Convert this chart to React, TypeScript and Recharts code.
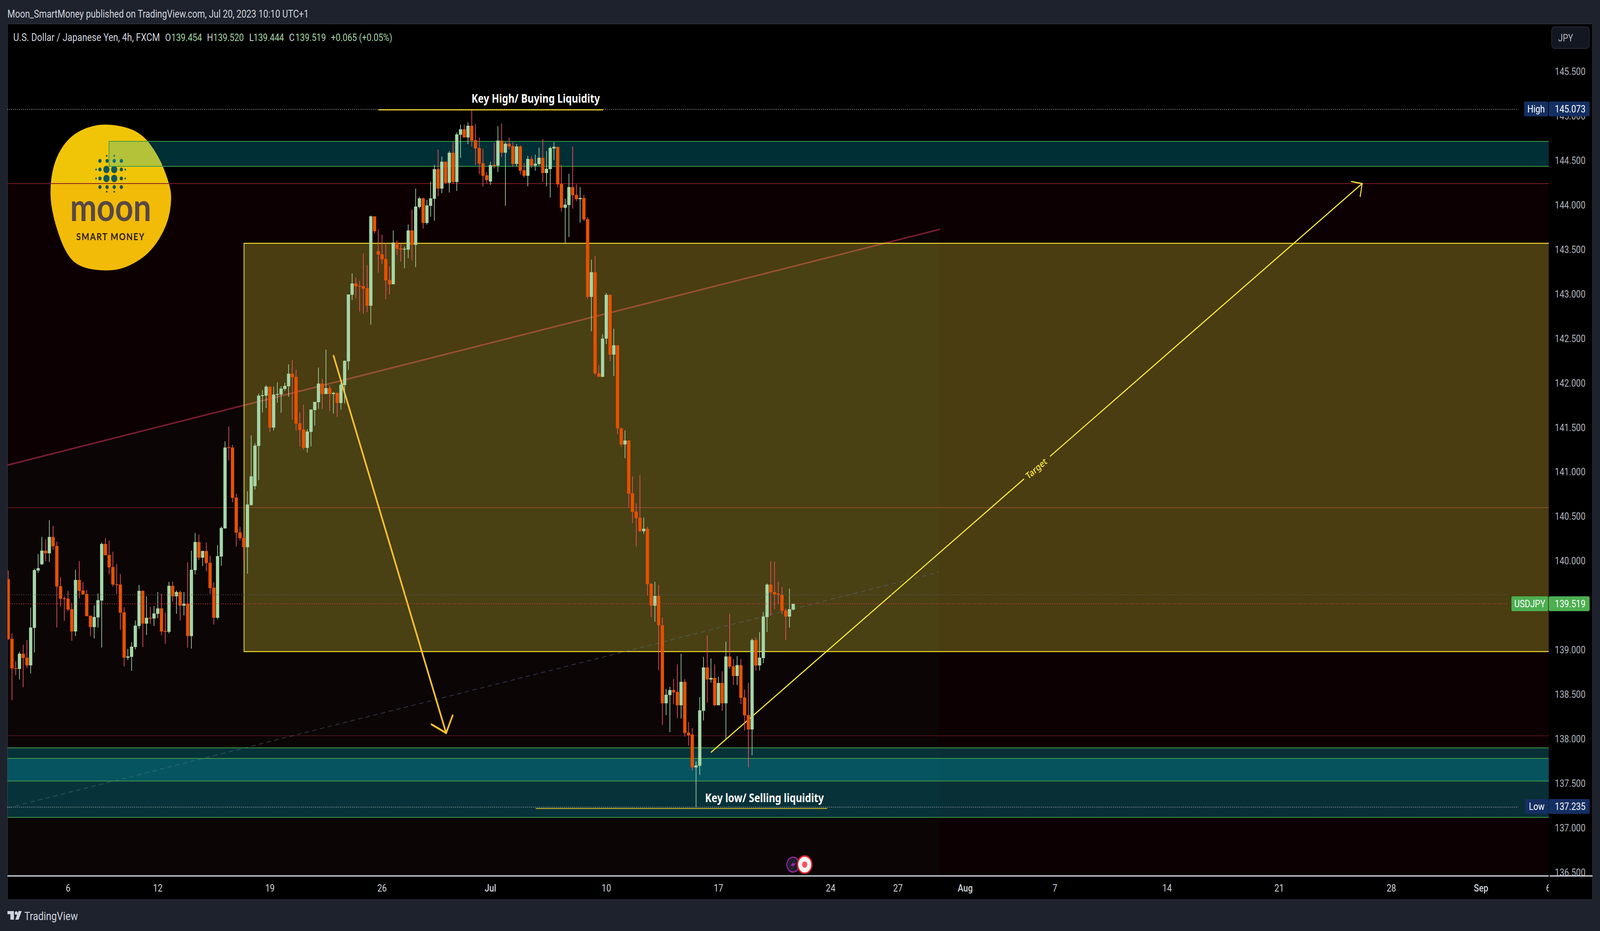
import {
  ComposedChart,
  Area,
  Bar,
  XAxis,
  YAxis,
  ReferenceArea,
  ReferenceLine,
  ReferenceDot,
} from "recharts";

// USD/JPY 4h candles, oldest first
const highs = [
  139.893,139.186,138.875,138.979,139.059,139.112,139.476,139.914,140.077,140.270,
  140.243,140.458,140.397,140.217,139.818,139.603,139.664,139.529,139.901,139.998,
  139.761,139.673,139.388,139.502,139.634,140.208,140.257,140.230,140.103,139.967,
  139.853,139.480,139.011,139.086,139.331,139.730,139.669,139.603,139.485,139.493,
  139.651,139.634,139.419,139.765,139.770,139.669,139.669,139.651,139.985,140.116,
  140.314,140.296,140.116,140.208,140.059,139.761,140.178,140.388,141.344,141.511,
  141.305,140.756,140.383,140.300,140.783,141.410,141.322,141.879,141.919,141.976,
  141.958,141.958,142.007,141.963,142.002,142.208,142.257,142.147,141.669,141.757,
  141.480,141.704,141.787,142.173,142.046,142.375,141.971,141.901,141.893,142.002,
  142.252,142.994,143.231,143.187,143.147,143.454,143.323,143.880,143.871,143.726,
  143.665,143.573,143.310,143.713,143.599,143.577,143.529,143.779,143.946,144.183,
  144.090,144.082,144.055,144.262,144.450,144.621,144.542,144.485,144.604,144.705,
  144.814,144.902,144.902,144.928,145.073,144.906,144.757,144.630,144.367,144.485,
  144.696,144.884,144.915,144.705,144.757,144.705,144.683,144.670,144.468,144.551,
  144.547,144.564,144.643,144.740,144.604,144.656,144.705,144.652,144.450,144.069,
  144.349,144.656,144.231,144.200,144.112,143.862,143.384,143.424,142.200,142.546,
  143.011,142.990,142.608,142.423,141.498,141.467,141.358,140.950,140.647,140.963,
  140.485,140.383,139.752,139.765,139.730,139.366,138.563,138.585,138.673,138.839,
  138.958,138.673,138.190,138.124,137.747,138.471,138.923,139.164,138.905,138.839,
  138.699,138.760,139.094,139.405,138.896,138.931,138.901,138.554,138.633,139.129,
  139.142,139.199,139.427,139.747,139.998,139.993,139.765,139.708,139.466,139.690,139.520,
];

const lows = [
  139.113,138.436,138.717,138.669,138.581,138.796,138.735,138.971,139.866,139.954,
  139.998,139.989,140.125,139.252,139.485,139.327,139.436,139.103,139.156,139.581,
  139.625,139.379,139.156,139.129,139.252,139.028,140.064,139.849,139.713,139.629,
  139.226,138.814,138.888,138.765,139.007,139.239,139.033,139.169,139.292,139.270,
  139.357,139.165,139.068,139.186,139.542,139.406,139.331,139.388,139.028,139.015,
  139.849,140.011,139.945,139.884,139.629,139.287,139.344,139.945,140.362,141.130,
  140.660,140.160,140.230,140.002,139.857,140.620,140.800,140.906,141.669,141.717,
  141.445,141.467,141.779,141.665,141.910,141.844,141.586,141.463,141.287,141.248,
  141.217,141.287,141.520,141.708,141.708,141.875,141.686,141.656,141.616,141.700,
  141.770,142.147,142.932,142.954,142.801,142.774,142.796,142.656,143.678,143.239,
  143.336,142.937,142.994,143.108,143.437,143.362,143.288,143.402,143.376,143.301,
  143.959,143.735,143.779,143.867,143.823,144.095,144.130,144.240,144.139,144.240,
  144.156,144.529,144.757,144.683,144.656,144.446,144.345,144.205,144.240,144.226,
  144.411,144.371,144.538,143.989,144.626,144.428,144.437,144.340,144.305,144.209,
  144.415,144.384,144.441,144.257,144.209,144.082,144.503,144.196,143.924,143.560,
  143.639,143.959,144.042,143.801,143.818,142.945,142.581,142.086,142.068,142.068,
  142.437,142.243,142.077,141.423,141.283,141.156,140.603,140.423,140.164,140.326,
  140.305,139.611,139.370,139.317,138.774,138.159,138.269,138.076,138.392,138.234,
  138.229,138.028,137.927,137.646,137.235,137.598,138.208,138.409,138.633,138.370,
  138.379,138.317,138.002,138.787,138.607,138.607,138.392,138.094,137.681,137.817,
  138.769,138.769,138.852,139.203,139.383,139.458,139.519,139.401,139.111,139.252,139.444,
];

const opens = [
  139.795,139.125,138.796,138.787,138.958,138.914,138.827,139.248,139.893,139.963,
  140.116,140.086,140.270,140.169,139.717,139.581,139.577,139.458,139.208,139.787,
  139.669,139.629,139.384,139.257,139.366,139.555,140.191,140.068,139.932,139.739,
  139.735,139.423,138.914,138.923,139.033,139.270,139.664,139.296,139.362,139.353,
  139.406,139.467,139.213,139.204,139.721,139.603,139.651,139.498,139.520,139.156,
  139.897,140.213,140.037,140.112,139.980,139.700,139.362,140.050,140.366,141.279,
  141.274,140.712,140.322,140.260,140.155,140.629,140.840,141.292,141.853,141.857,
  141.958,141.498,141.866,141.870,141.932,141.963,142.103,142.068,141.546,141.476,
  141.270,141.450,141.695,141.783,141.993,141.875,141.941,141.875,141.888,141.774,
  141.976,142.243,142.990,143.117,143.090,143.086,143.064,142.867,143.871,143.481,
  143.445,143.393,143.156,143.108,143.577,143.511,143.498,143.498,143.713,143.551,
  143.976,144.073,143.797,143.989,144.069,144.402,144.183,144.485,144.248,144.586,
  144.257,144.788,144.849,144.757,144.889,144.727,144.639,144.468,144.332,144.262,
  144.450,144.441,144.722,144.586,144.687,144.661,144.459,144.656,144.389,144.327,
  144.516,144.441,144.459,144.529,144.358,144.402,144.634,144.652,144.235,143.968,
  143.998,144.200,144.112,144.064,144.077,143.840,142.967,143.244,142.108,142.068,
  142.498,142.990,142.318,142.423,141.489,141.309,141.353,140.761,140.555,140.485,
  140.335,140.362,139.743,139.498,139.607,139.278,138.401,138.493,138.550,138.528,
  138.379,138.642,138.072,138.050,137.681,137.699,138.317,138.804,138.668,138.686,
  138.379,138.629,138.401,138.927,138.817,138.708,138.830,138.466,138.269,138.107,
  139.111,138.826,138.909,139.370,139.734,139.651,139.633,139.620,139.444,139.375,139.454,
];

const closes = [
  139.122,138.793,138.787,138.958,138.910,138.827,139.252,139.897,139.919,140.116,
  140.086,140.270,140.165,139.713,139.577,139.572,139.454,139.208,139.787,139.664,
  139.625,139.379,139.257,139.371,139.559,140.191,140.064,139.928,139.735,139.730,
  139.419,138.914,138.928,139.037,139.274,139.664,139.296,139.362,139.353,139.410,
  139.467,139.208,139.204,139.721,139.603,139.651,139.498,139.520,139.156,139.901,
  140.213,140.037,140.112,139.976,139.695,139.362,140.055,140.371,141.274,141.270,
  140.708,140.317,140.256,140.155,140.634,140.950,141.296,141.857,141.862,141.958,
  141.498,141.870,141.875,141.936,141.967,142.103,142.064,141.542,141.471,141.270,
  141.454,141.700,141.787,141.993,141.875,141.941,141.875,141.888,141.774,141.980,
  142.248,142.994,143.117,143.086,143.081,143.059,142.867,143.871,143.704,143.441,
  143.389,143.152,143.108,143.577,143.507,143.498,143.507,143.713,143.551,143.981,
  144.073,143.797,143.994,144.073,144.402,144.183,144.485,144.248,144.586,144.257,
  144.792,144.849,144.757,144.889,144.722,144.634,144.463,144.327,144.279,144.446,
  144.437,144.722,144.586,144.687,144.656,144.459,144.656,144.384,144.327,144.516,
  144.441,144.463,144.529,144.358,144.406,144.639,144.652,144.231,143.968,144.003,
  144.200,144.108,144.064,144.077,143.836,142.967,143.244,142.108,142.068,142.498,
  142.990,142.318,142.423,141.489,141.309,141.353,140.756,140.550,140.480,140.335,
  140.362,139.739,139.498,139.607,139.278,138.401,138.497,138.550,138.524,138.379,
  138.642,138.067,138.041,137.681,137.703,138.322,138.804,138.668,138.686,138.379,
  138.629,138.401,138.927,138.813,138.708,138.830,138.462,138.265,138.107,139.111,
  138.826,138.914,139.375,139.734,139.647,139.625,139.620,139.440,139.375,139.458,139.519,
];

// time axis, in bar numbers
const timeTicks = [17, 41, 71, 101, 130, 161, 191, 221, 239, 257, 281, 311, 341, 371, 395, 413];
const timeLabels = ["6", "12", "19", "26", "Jul", "10", "17", "24", "27", "Aug", "7", "14", "21", "28", "Sep", "6"];
const priceTicks = [136.5, 137, 137.5, 138, 138.5, 139, 139.5, 140, 140.5, 141, 141.5, 142, 142.5, 143, 143.5, 144, 144.5, 145, 145.5];

// drawings on the chart, as [bar, price]
const redTrend = [[0.783, 141.077], [250.26, 143.726]];
const dashTrend = [[0.783, 137.225], [249.91, 139.875]];
const channelFill = [{ idx: 0.783, top: 141.077 }, { idx: 250.09, top: 143.725 }];
const downArrow = [[88.02, 142.305], [118.14, 138.067]];
const downBarbs = [[[114.24, 138.164], [118.14, 138.067]], [[119.88, 138.265], [118.14, 138.067]]];
const targetLines = [
  [[189.06, 137.852], [272.66, 140.919]],
  [[279.78, 141.178], [363.2, 144.24]],
  [[360.33, 144.262], [363.2, 144.24]],
  [[362.67, 144.095], [363.2, 144.24]],
];

const candles = opens.map((open, i) => ({
  idx: i + 1,
  open,
  high: highs[i],
  low: lows[i],
  close: closes[i],
  range: [lows[i], highs[i]],
}));

const PAGE_WIDTH = 4931;
const PAGE_HEIGHT = 2384;
const UI_FONT = "Roboto, sans-serif";
const AXIS_COLOR = "#b2b5be";
const BODY_WIDTH = 10;
const ZONE_STROKE = "#3f9a44";

function Candle(props: any) {
  const { x, y, width, height, payload } = props;
  const perPrice = height / (payload.high - payload.low);
  const up = payload.close >= payload.open;
  const bodyTop = y + (payload.high - Math.max(payload.open, payload.close)) * perPrice;
  const bodyBottom = y + (payload.high - Math.min(payload.open, payload.close)) * perPrice;
  const cx = x + width / 2;
  return (
    <g>
      <rect x={cx - 1} y={y} width={2} height={height} fill={up ? "#a5d6a7" : "#f7525f"} />
      <rect
        x={cx - BODY_WIDTH / 2}
        y={bodyTop}
        width={BODY_WIDTH}
        height={Math.max(bodyBottom - bodyTop, 2)}
        fill={up ? "#a5d6a7" : "#e65100"}
      />
    </g>
  );
}

function TimeTick(props: any) {
  const { x, index } = props;
  const label = timeLabels[index] ?? "";
  const isMonth = label.length === 3;
  return (
    <g>
      <clipPath id={`time-clip-${index}`}>
        <rect x={23} y={2245} width={4750} height={58} />
      </clipPath>
      <text
        x={x}
        y={2283}
        textAnchor="middle"
        fontFamily={UI_FONT}
        fontSize={26}
        fontWeight={isMonth ? 500 : 400}
        fill="#d1d4dc"
        clipPath={`url(#time-clip-${index})`}
      >
        {label}
      </text>
    </g>
  );
}

function PriceTick(props: any) {
  const { y, payload } = props;
  return (
    <text x={4839} y={y + 9} textAnchor="middle" fontFamily={UI_FONT} fontSize={26} fill={AXIS_COLOR}>
      {payload.value.toFixed(3)}
    </text>
  );
}

function segment(pair: number[][]) {
  return pair.map(([x, y]) => ({ x, y }));
}

function noteText(text: string, fill: string, fontSize: number, rotate = 0, weight = 700) {
  return (p: any) => (
    <text
      x={p.cx}
      y={p.cy}
      textAnchor="middle"
      dominantBaseline="central"
      fontFamily="'Noto Sans', sans-serif"
      fontWeight={weight}
      fontSize={fontSize}
      fill={fill}
      transform={rotate ? `rotate(${rotate} ${p.cx} ${p.cy})` : undefined}
    >
      {text}
    </text>
  );
}

// soft closed outline through the logo points
function blobPath(points: number[][]) {
  const mid = (a: number[], b: number[]) => [(a[0] + b[0]) / 2, (a[1] + b[1]) / 2];
  const start = mid(points[points.length - 1], points[0]);
  let d = `M${start[0]} ${start[1]}`;
  points.forEach((p, i) => {
    const m = mid(p, points[(i + 1) % points.length]);
    d += ` Q${p[0]} ${p[1]} ${m[0]} ${m[1]}`;
  });
  return d + " Z";
}

const logoOutline = [
  [336, 316], [431, 335], [489, 398], [522, 469], [530, 510], [516, 577], [466, 645], [398, 683],
  [336, 695], [249, 686], [205, 653], [170, 577], [152, 500], [164, 418], [205, 357], [265, 325],
];

const logoDots = [
  [329, 399, 2.5], [352, 399, 2.5],
  [308, 412, 5], [330, 412, 5], [352, 412, 5], [374, 412, 5],
  [296, 434, 2.5], [308, 434, 5], [328, 434, 9.5], [352, 434, 9.5], [374, 434, 5], [386, 434, 2.5],
  [296, 457, 2.5], [308, 457, 5], [328, 457, 9.5], [352, 457, 9.5], [374, 457, 5], [386, 457, 2.5],
  [308, 479, 5], [330, 479, 5], [352, 479, 5], [374, 479, 5],
  [329, 491, 2.5], [352, 491, 2.5],
];

function PriceTag({ name, value, y, x, width, color }: any) {
  const top = y - 19;
  return (
    <g fontFamily={UI_FONT} fontSize={26} fill="#ffffff">
      <rect x={x} y={top} width={width} height={38} rx={4} fill={color} />
      <rect x={4773} y={top} width={126} height={38} rx={4} fill={color} />
      <text x={x + width / 2} y={y + 9} textAnchor="middle">{name}</text>
      <text x={4839} y={y + 9} textAnchor="middle">{value}</text>
    </g>
  );
}

export default function App() {
  // The sandbox browser reports innerWidth 4096, not the 4931 it was asked for, so a
  // 4931 page loses its right side. Squeeze horizontally to fit; at a real 4931 window fit is 1.
  const fit = Math.min(1, window.innerWidth / PAGE_WIDTH);
  return (
    <div
      style={{
        position: "absolute",
        left: 0,
        top: 0,
        width: PAGE_WIDTH,
        height: PAGE_HEIGHT,
        background: "#1e222d",
        overflow: "hidden",
        transform: `scaleX(${fit})`,
        transformOrigin: "0 0",
      }}
    >
      {/* panel and logo sit under the chart */}
      <svg width={PAGE_WIDTH} height={PAGE_HEIGHT} style={{ position: "absolute", left: 0, top: 0 }}>
        <rect x={23} y={61} width={4885} height={2243} fill="#000000" stroke="#2a2e39" strokeWidth={2} />
        <path d={blobPath(logoOutline)} fill="#f1c507" />
        {logoDots.map(([cx, cy, r], i) => (
          <ellipse key={i} cx={cx} cy={cy} rx={r} ry={r} fill="#10575a" />
        ))}
        <text x={341} y={566} textAnchor="middle" fontFamily="Lato, sans-serif" fontSize={98} fontWeight={700} fill="#504c48">
          moon
        </text>
        <text x={341} y={615} textAnchor="middle" fontFamily="Lato, sans-serif" fontSize={25} letterSpacing={2.5} fontWeight={700} fill="#1e1c18">
          SMART MONEY
        </text>
      </svg>

      <ComposedChart
        width={PAGE_WIDTH}
        height={PAGE_HEIGHT}
        data={candles}
        margin={{ top: 61, right: 0, bottom: 0, left: 23 }}
        style={{ position: "absolute", left: 0, top: 0 }}
      >
        <XAxis
          dataKey="idx"
          type="number"
          domain={[0.783, 413.11]}
          allowDataOverflow
          ticks={timeTicks}
          interval={0}
          height={141}
          tick={<TimeTick />}
          tickLine={false}
          axisLine={{ stroke: "#e0e3eb", strokeWidth: 3 }}
        />
        <YAxis
          orientation="right"
          type="number"
          domain={[136.4616, 146.034]}
          allowDataOverflow
          ticks={priceTicks}
          interval={0}
          width={158}
          tick={<PriceTick />}
          tickLine={false}
          axisLine={false}
        />

        {/* red tint below the upper line, cooler tint inside the channel */}
        <ReferenceArea y1={136.4616} y2={144.24} fill="#ff002a" fillOpacity={0.047} stroke="none" zIndex={5} />
        <Area
          data={channelFill}
          dataKey="top"
          baseValue={136.4616}
          stroke="none"
          fill="#00ffff"
          fillOpacity={0.02}
          isAnimationActive={false}
          dot={false}
          activeDot={false}
          zIndex={6}
        />

        <ReferenceLine y={144.24} stroke="#801c24" strokeWidth={2} zIndex={10} />
        <ReferenceLine y={140.599} stroke="#64191e" strokeWidth={2} zIndex={10} />
        <ReferenceLine y={138.037} stroke="#641920" strokeWidth={1.5} zIndex={10} />
        <ReferenceLine segment={segment(redTrend)} stroke="#7a1c30" strokeWidth={4} zIndex={10} />

        <ReferenceArea x1={27.95} x2={430} y1={144.433} y2={144.713} ifOverflow="hidden" fill="#00bcd4" fillOpacity={0.25} stroke={ZONE_STROKE} strokeWidth={2} zIndex={20} />
        <ReferenceArea x1={-10} x2={430} y1={137.12} y2={137.901} ifOverflow="hidden" fill="#00bcd4" fillOpacity={0.25} stroke={ZONE_STROKE} strokeWidth={2} zIndex={20} />
        <ReferenceArea x1={-10} x2={430} y1={137.528} y2={137.782} ifOverflow="hidden" fill="#00bcd4" fillOpacity={0.25} stroke={ZONE_STROKE} strokeWidth={2} zIndex={20} />
        <ReferenceArea x1={64.07} x2={430} y1={138.982} y2={143.568} ifOverflow="hidden" fill="#f0e23a" fillOpacity={0.27} stroke="#f2d72d" strokeWidth={2.5} zIndex={20} />

        <ReferenceLine segment={segment(dashTrend)} stroke="#5d7a94" strokeOpacity={0.45} strokeWidth={2} strokeDasharray="14 10" zIndex={30} />

        <ReferenceLine segment={segment(downArrow)} stroke="#fbc02d" strokeWidth={5} strokeLinecap="round" zIndex={40} />
        {downBarbs.map((pair, i) => (
          <ReferenceLine key={i} segment={segment(pair)} stroke="#fbc02d" strokeWidth={5} strokeLinecap="round" zIndex={40} />
        ))}
        {targetLines.map((pair, i) => (
          <ReferenceLine key={i} segment={segment(pair)} stroke="#ffeb3b" strokeWidth={3} strokeLinecap="round" zIndex={40} />
        ))}

        <Bar dataKey="range" barSize={10} shape={(p: any) => <Candle {...p} />} isAnimationActive={false} zIndex={50} />

        {/* high, low and last price guides */}
        <ReferenceLine segment={[{ x: 0.783, y: 145.073 }, { x: 405, y: 145.073 }]} stroke="#b2b5be" strokeWidth={2} strokeDasharray="2 4" zIndex={60} />
        <ReferenceLine segment={[{ x: 0.783, y: 137.235 }, { x: 405, y: 137.235 }]} stroke="#b2b5be" strokeWidth={2} strokeDasharray="2 4" zIndex={60} />
        <ReferenceLine segment={[{ x: 0.783, y: 139.62 }, { x: 402, y: 139.62 }]} stroke="#5d5d5d" strokeWidth={2} strokeDasharray="2 5" zIndex={60} />
        <ReferenceLine segment={[{ x: 0.783, y: 139.519 }, { x: 402, y: 139.519 }]} stroke="#f23645" strokeWidth={2} strokeDasharray="2 5" zIndex={60} />

        <ReferenceLine segment={[{ x: 100, y: 145.068 }, { x: 160.16, y: 145.068 }]} stroke="#e4c829" strokeWidth={3} zIndex={60} />
        <ReferenceLine segment={[{ x: 142.1, y: 137.22 }, { x: 220.1, y: 137.22 }]} stroke="#e4c829" strokeWidth={2} zIndex={60} />

        <ReferenceDot x={142.1} y={145.196} r={0} shape={noteText("Key High/ Buying Liquidity", "#ffffff", 30)} zIndex={70} />
        <ReferenceDot x={203.3} y={137.34} r={0} shape={noteText("Key low/ Selling liquidity", "#ffffff", 30)} zIndex={70} />
        <ReferenceDot x={275.96} y={141.042} r={0} shape={noteText("Target", "#ffeb3b", 24, -36, 500)} zIndex={70} />
      </ComposedChart>

      {/* page chrome on top of the chart */}
      <svg width={PAGE_WIDTH} height={PAGE_HEIGHT} style={{ position: "absolute", left: 0, top: 0 }}>
        <text x={23} y={45} fontFamily={UI_FONT} fontSize={27} fill="#d1d4dc">
          Moon_SmartMoney published on TradingView.com, Jul 20, 2023 10:10 UTC+1
        </text>

        <g fontFamily={UI_FONT} fontSize={26}>
          <text x={41} y={105} fontSize={27.5} fill="#d1d4dc">U.S. Dollar / Japanese Yen, 4h, FXCM</text>
          <text x={509} y={105} fill="#d1d4dc">O</text>
          <text x={528} y={105} fill="#a5d6a7">139.454</text>
          <text x={638} y={105} fill="#d1d4dc">H</text>
          <text x={657} y={105} fill="#a5d6a7">139.520</text>
          <text x={768} y={105} fill="#d1d4dc">L</text>
          <text x={781} y={105} fill="#a5d6a7">139.444</text>
          <text x={891} y={105} fill="#d1d4dc">C</text>
          <text x={910} y={105} fill="#a5d6a7">139.519</text>
          <text x={1020} y={105} fill="#a5d6a7">+0.065 (+0.05%)</text>
        </g>

        <rect x={4782} y={69} width={116} height={55} rx={10} fill="#131722" stroke="#2a2e39" strokeWidth={2} />
        <text x={4802} y={106} fontFamily={UI_FONT} fontSize={26} fill={AXIS_COLOR}>JPY</text>

        <line x1={4776} x2={4908} y1={2243} y2={2243} stroke="#e0e3eb" strokeWidth={3} />

        <PriceTag name="High" value="145.073" y={279} x={4697} width={74} color="#142f62" />
        <PriceTag name="Low" value="137.235" y={2065} x={4701} width={70} color="#142f62" />
        <PriceTag name="USDJPY" value="139.519" y={1546} x={4658} width={113} color="#4caf50" />

        {/* flash and alert badges */}
        <circle cx={2444} cy={2214} r={19} fill="#1e1e2a" stroke="#9c27b0" strokeWidth={3} />
        <path d="M2452 2201 L2436 2217 H2445 L2436 2227 L2453 2211 H2444 Z" fill="#9c27b0" />
        <circle cx={2480} cy={2214} r={22} fill="#f5f5f5" stroke="#e5202e" strokeWidth={4} />
        <circle cx={2480} cy={2214} r={8} fill="#f7525f" />

        {/* TradingView mark */}
        <path d="M23 2333 H43 V2355 H32 V2341 H23 Z" fill="#d1d4dc" />
        <circle cx={50} cy={2338} r={4.5} fill="#d1d4dc" />
        <path d="M57 2333 H67 L57 2355 H47 Z" fill="#d1d4dc" />
        <text x={75} y={2356} fontFamily={UI_FONT} fontSize={30} fill="#d1d4dc">TradingView</text>
      </svg>
    </div>
  );
}
